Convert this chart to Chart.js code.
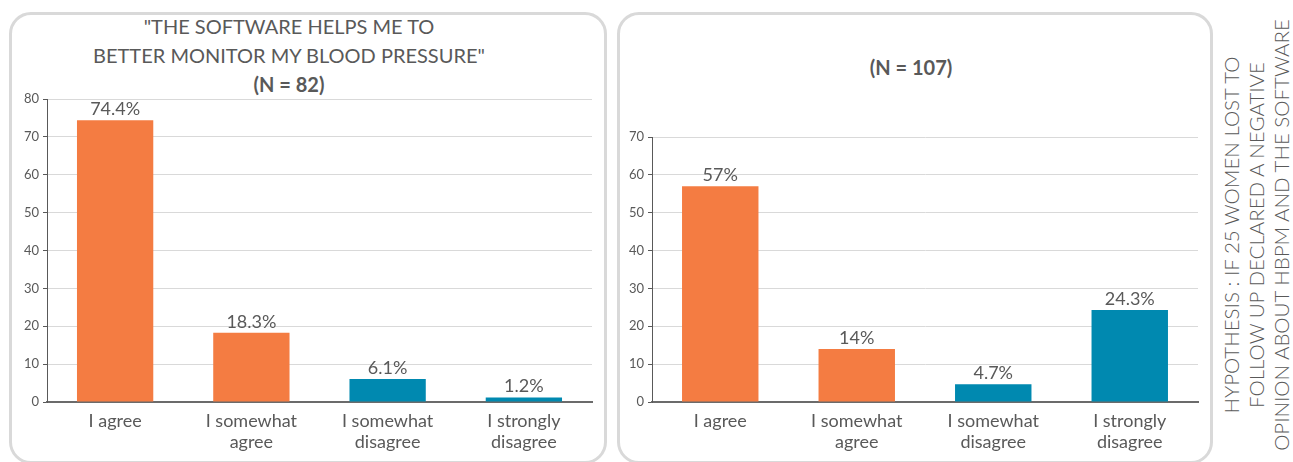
<!DOCTYPE html>
<html>
<head>
<meta charset="utf-8">
<script src="https://cdn.jsdelivr.net/npm/chart.js@4.4.0/dist/chart.umd.min.js"></script>
<style>
  body {
    margin: 0;
    width: 1293px;
    height: 462px;
    position: relative;
    overflow: hidden;
    background: #fff;
    font-family: Lato, "Open Sans", sans-serif;
    color: #595959;
  }
  .panel {
    position: absolute;
    box-sizing: border-box;
    border: 3px solid #d9d9d9;
    border-radius: 22px;
  }
  .box { position: absolute; }
  .title {
    position: absolute;
    text-align: center;
    white-space: nowrap;
    font-size: 20px;
    line-height: 29px;
  }
  .title b { font-weight: 700; }
  .side {
    position: absolute;
    width: 480px;
    height: 76px;
    left: 1017px;
    top: 197px;
    transform: rotate(-90deg);
    text-align: center;
    white-space: nowrap;
    font-size: 20.5px;
    line-height: 25px;
    font-weight: 300;
  }
</style>
</head>
<body>
<div class="panel" style="left:9px;top:12px;width:598px;height:452px"></div>
<div class="panel" style="left:617px;top:12px;width:596px;height:452px"></div>

<div class="title" style="left:89px;top:12px;width:400px">"THE SOFTWARE HELPS ME TO<br>BETTER MONITOR MY BLOOD PRESSURE"<br><b>(N = 82)</b></div>
<div class="title" style="left:811px;top:53px;width:200px"><b>(N = 107)</b></div>

<div class="box" style="left:9px;top:12px"><canvas id="left-chart" width="598" height="450"></canvas></div>
<div class="box" style="left:617px;top:12px"><canvas id="right-chart" width="596" height="450"></canvas></div>

<div class="side">HYPOTHESIS : IF 25 WOMEN LOST TO<br>FOLLOW UP DECLARED A NEGATIVE<br>OPINION ABOUT HBPM AND THE SOFTWARE</div>

<script>
// chart data
const categories = [
  ["I agree"],
  ["I somewhat", "agree"],
  ["I somewhat", "disagree"],
  ["I strongly", "disagree"],
];
const leftValues = [74.4, 18.3, 6.1, 1.2];
const rightValues = [57, 14, 4.7, 24.3];
const leftMax = 80;
const rightMax = 70;

const orange = "#f47c42";
const teal = "#0089b0";
const barColors = [orange, orange, teal, teal];
const textColor = "#595959";

/**
 * draws the percentage above every bar
 */
const valueLabels = {
  id: "valueLabels",
  afterDatasetsDraw(chart) {
    const ctx = chart.ctx;
    const values = chart.data.datasets[0].data;
    ctx.save();
    ctx.font = "18px Lato, 'Open Sans', sans-serif";
    ctx.fillStyle = textColor;
    ctx.textAlign = "center";
    ctx.textBaseline = "alphabetic";
    chart.getDatasetMeta(0).data.forEach((bar, i) => {
      ctx.fillText(values[i] + "%", bar.x, bar.y - 5);
    });
    ctx.restore();
  },
};

/**
 * one bar chart for a panel
 */
function createChart(id, values, max, yWidth, padTop) {
  return new Chart(document.getElementById(id), {
    type: "bar",
    data: {
      labels: categories,
      datasets: [
        {
          data: values,
          backgroundColor: barColors,
          barPercentage: 0.56,
          categoryPercentage: 1,
        },
      ],
    },
    options: {
      responsive: false,
      animation: false,
      layout: { padding: { top: padTop, right: 15, left: 0, bottom: 0 } },
      plugins: {
        legend: { display: false },
        tooltip: { enabled: false },
      },
      scales: {
        x: {
          grid: { display: false, drawTicks: false },
          border: { display: true, color: "#6b6b6b", width: 2 },
          ticks: {
            color: textColor,
            padding: 8,
            font: { family: "Lato, 'Open Sans', sans-serif", size: 18, lineHeight: 1.2 },
          },
          afterFit: function (scale) {
            scale.height = 60;
          },
        },
        y: {
          min: 0,
          max: max,
          ticks: {
            stepSize: 10,
            color: textColor,
            padding: 4,
            font: { family: "Lato, 'Open Sans', sans-serif", size: 13 },
          },
          grid: { color: "#d9d9d9", tickColor: "#595959", tickLength: 4 },
          border: { display: true, color: "#595959", width: 1 },
          afterFit: function (scale) {
            scale.width = yWidth;
          },
        },
      },
    },
    plugins: [valueLabels],
  });
}

createChart("left-chart", leftValues, leftMax, 38, 87);
createChart("right-chart", rightValues, rightMax, 35, 125);
</script>
</body>
</html>
